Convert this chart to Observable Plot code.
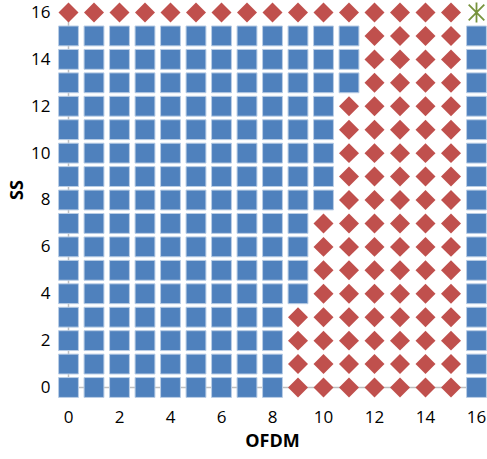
<!DOCTYPE html>
<html>
<head>
<meta charset="utf-8">
<script src="https://cdn.jsdelivr.net/npm/d3@7"></script>
<script src="https://cdn.jsdelivr.net/npm/@observablehq/plot@0.6"></script>
<style>
  html, body { margin: 0; padding: 0; background: #fff; }
  #chart { width: 487px; height: 459px; }
</style>
</head>
<body>
<div id="chart"></div>
<script>
// Axis ticks
const xTicks = [0, 2, 4, 6, 8, 10, 12, 14, 16];
const yTicks = [0, 2, 4, 6, 8, 10, 12, 14, 16];
// SS rows 0..15 and the last OFDM value that is a blue square in each row
const ssRows = [0, 1, 2, 3, 4, 5, 6, 7, 8, 9, 10, 11, 12, 13, 14, 15];
const lastSquare = [8, 8, 8, 8, 9, 9, 9, 9, 10, 10, 10, 10, 10, 11, 11, 11];
// OFDM columns 0..15 (plus the extra column at 16)
const ofdmCols = [0, 1, 2, 3, 4, 5, 6, 7, 8, 9, 10, 11, 12, 13, 14, 15];
const extraCol = 16;
const topRow = 16;
const starPoint = [{ofdm: 16, ss: 16}];

const squares = [];
const diamonds = [];
ssRows.forEach((s, i) => {
  ofdmCols.forEach(o => {
    if (o <= lastSquare[i]) squares.push({ofdm: o, ss: s});
    else diamonds.push({ofdm: o, ss: s});
  });
  squares.push({ofdm: extraCol, ss: s});
});
ofdmCols.forEach(o => diamonds.push({ofdm: o, ss: topRow}));

const starSymbol = {
  draw(context, size) {
    const r = 10;
    const d = r * 0.78;
    context.moveTo(0, -r); context.lineTo(0, r);
    context.moveTo(-d, -d); context.lineTo(d, d);
    context.moveTo(-d, d); context.lineTo(d, -d);
  }
};

const font = "'Open Sans', 'DejaVu Sans', sans-serif";
const chart = Plot.plot({
  width: 487,
  height: 459,
  marginLeft: 68,
  marginRight: 11,
  marginTop: 12,
  marginBottom: 72,
  style: {fontFamily: font, fontSize: "17px", color: "#000", background: "#fff"},
  x: {domain: [0, 16], axis: null},
  y: {domain: [0, 16], axis: null},
  marks: [
    Plot.ruleX([0], {stroke: "#BFBFBF", strokeWidth: 1.5}),
    Plot.ruleY([0], {stroke: "#BFBFBF", strokeWidth: 1.5}),
    Plot.axisX({ticks: xTicks, tickSize: 0, tickPadding: 23, label: null, fontSize: 17, fill: "#000", tickFormat: d => String(d)}),
    Plot.axisY({ticks: yTicks, tickSize: 0, tickPadding: 18, label: null, fontSize: 17, fill: "#000", tickFormat: d => String(d)}),
    Plot.dot(squares, {x: "ofdm", y: "ss", symbol: "square", r: 11.2, fill: "#4F81BD", stroke: "#B9CDE5", strokeWidth: 1}),
    Plot.dot(diamonds, {x: "ofdm", y: "ss", symbol: "diamond2", r: 9, fill: "#C0504D", stroke: "none"}),
    Plot.dot(starPoint, {x: "ofdm", y: "ss", symbol: starSymbol, r: 9, fill: "none", stroke: "#77933C", strokeWidth: 1.8}),
    Plot.text(["SS"], {frameAnchor: "left", dx: -51, rotate: -90, fontWeight: "bold", fontSize: 18, fill: "#000"}),
    Plot.text(["OFDM"], {frameAnchor: "bottom", dy: 59, fontWeight: "bold", fontSize: 18, fill: "#000"})
  ]
});
document.getElementById("chart").appendChild(chart);
</script>
</body>
</html>
